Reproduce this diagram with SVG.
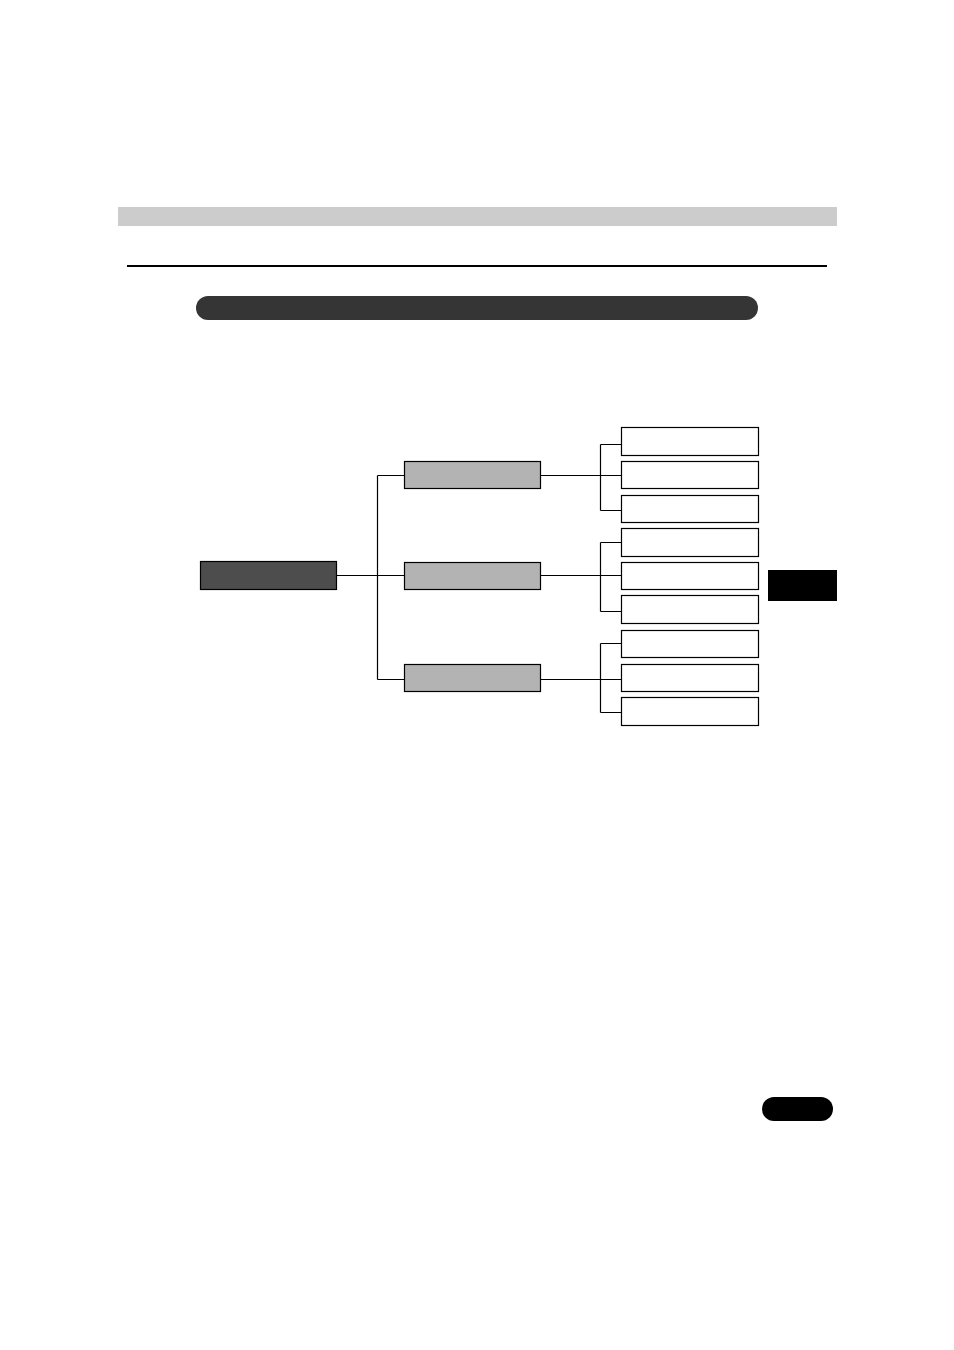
<svg xmlns="http://www.w3.org/2000/svg" width="954" height="1350" viewBox="0 0 954 1350">
<style>
.root{fill:#4d4d4d;stroke:#000;stroke-width:1.2}
.mid{fill:#b3b3b3;stroke:#000;stroke-width:1.2}
.leaf{fill:#fff;stroke:#000;stroke-width:1.2}
.conn{fill:none;stroke:#000;stroke-width:1.2}
</style>
<rect width="954" height="1350" fill="#fff"/>
<rect x="118" y="207" width="719" height="19" fill="#cccccc"/>
<line x1="127" y1="266" x2="827" y2="266" stroke="#000" stroke-width="2"/>
<rect x="196" y="296" width="562" height="24" rx="12" fill="#353535"/>
<rect x="768" y="570" width="69" height="31" fill="#000"/>
<rect x="762" y="1097" width="71" height="24" rx="12" fill="#000"/>
<g id="connectors">
<path class="conn" d="M336.5 575.5H377.5M377.5 475.5V679.5M377.5 475.5H404.5M377.5 575.5H404.5M377.5 679.5H404.5"/>
<path class="conn" d="M540.5 475.5H621.5M600.5 444.5V510.5M600.5 444.5H621.5M600.5 510.5H621.5"/>
<path class="conn" d="M540.5 575.5H621.5M600.5 542.5V611.5M600.5 542.5H621.5M600.5 611.5H621.5"/>
<path class="conn" d="M540.5 679.5H621.5M600.5 643.5V712.5M600.5 643.5H621.5M600.5 712.5H621.5"/>
</g>
<g id="root"><rect class="root" x="200.5" y="561.5" width="136" height="28"/></g>
<g id="mid1"><rect class="mid" x="404.5" y="461.5" width="136" height="27"/></g>
<g id="mid2"><rect class="mid" x="404.5" y="562.5" width="136" height="27"/></g>
<g id="mid3"><rect class="mid" x="404.5" y="664.5" width="136" height="27"/></g>
<g id="leaf1"><rect class="leaf" x="621.5" y="427.5" width="137" height="28"/></g>
<g id="leaf2"><rect class="leaf" x="621.5" y="461.5" width="137" height="27"/></g>
<g id="leaf3"><rect class="leaf" x="621.5" y="495.5" width="137" height="27"/></g>
<g id="leaf4"><rect class="leaf" x="621.5" y="528.5" width="137" height="28"/></g>
<g id="leaf5"><rect class="leaf" x="621.5" y="562.5" width="137" height="27"/></g>
<g id="leaf6"><rect class="leaf" x="621.5" y="595.5" width="137" height="28"/></g>
<g id="leaf7"><rect class="leaf" x="621.5" y="630.5" width="137" height="27"/></g>
<g id="leaf8"><rect class="leaf" x="621.5" y="664.5" width="137" height="27"/></g>
<g id="leaf9"><rect class="leaf" x="621.5" y="697.5" width="137" height="28"/></g>
</svg>
